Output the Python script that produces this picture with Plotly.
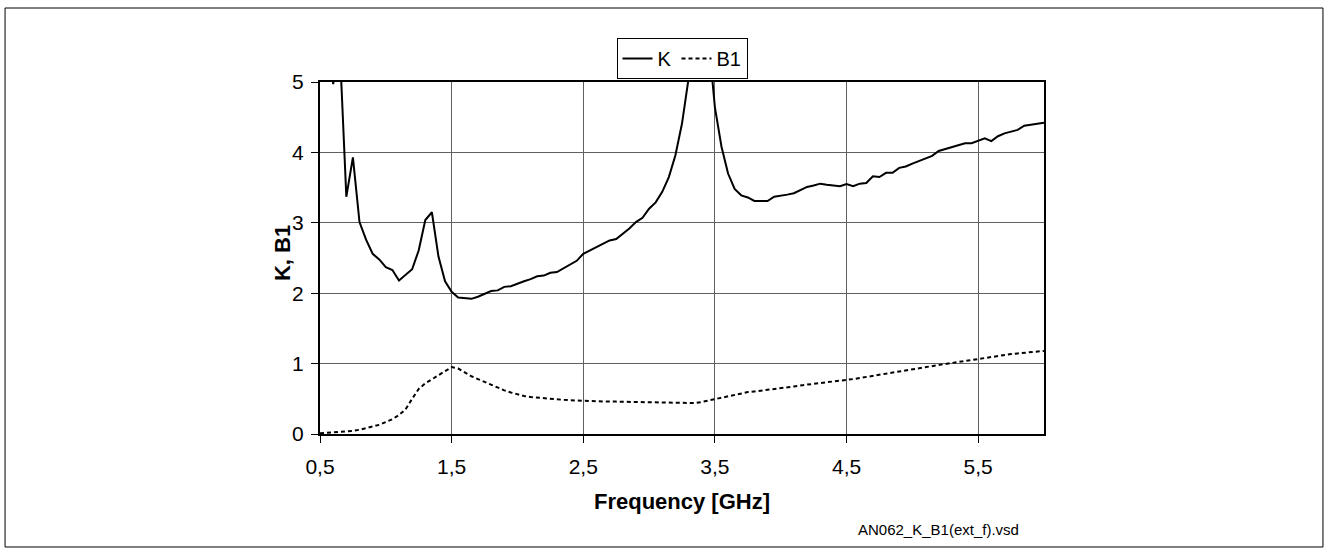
import plotly.graph_objects as go

# Frequency grid [GHz]
freq = [0.50, 0.55, 0.60, 0.65, 0.70, 0.75, 0.80, 0.85, 0.90, 0.95,
        1.00, 1.05, 1.10, 1.15, 1.20, 1.25, 1.30, 1.35, 1.40, 1.45,
        1.50, 1.55, 1.60, 1.65, 1.70, 1.75, 1.80, 1.85, 1.90, 1.95,
        2.00, 2.05, 2.10, 2.15, 2.20, 2.25, 2.30, 2.35, 2.40, 2.45,
        2.50, 2.55, 2.60, 2.65, 2.70, 2.75, 2.80, 2.85, 2.90, 2.95,
        3.00, 3.05, 3.10, 3.15, 3.20, 3.25, 3.30, 3.35, 3.40, 3.45,
        3.50, 3.55, 3.60, 3.65, 3.70, 3.75, 3.80, 3.85, 3.90, 3.95,
        4.00, 4.05, 4.10, 4.15, 4.20, 4.25, 4.30, 4.35, 4.40, 4.45,
        4.50, 4.55, 4.60, 4.65, 4.70, 4.75, 4.80, 4.85, 4.90, 4.95,
        5.00, 5.05, 5.10, 5.15, 5.20, 5.25, 5.30, 5.35, 5.40, 5.45,
        5.50, 5.55, 5.60, 5.65, 5.70, 5.75, 5.80, 5.85, 5.90, 5.95,
        6.00]

k_values = [5.8, 6.5, 4.97, 5.5, 3.37, 3.93, 3.01, 2.76, 2.56, 2.48,
            2.37, 2.33, 2.18, 2.26, 2.34, 2.61, 3.04, 3.15, 2.52, 2.17,
            2.02, 1.94, 1.93, 1.92, 1.95, 1.99, 2.03, 2.04, 2.09, 2.10,
            2.14, 2.17, 2.20, 2.24, 2.25, 2.29, 2.30, 2.35, 2.41, 2.46,
            2.56, 2.61, 2.65, 2.70, 2.75, 2.77, 2.84, 2.92, 3.01, 3.07,
            3.20, 3.29, 3.44, 3.65, 3.96, 4.41, 5.05, 8.0, 10.0, 5.64,
            4.64, 4.08, 3.70, 3.48, 3.39, 3.36, 3.31, 3.31, 3.31, 3.37,
            3.38, 3.40, 3.42, 3.46, 3.51, 3.53, 3.556, 3.54, 3.53, 3.52,
            3.55, 3.52, 3.556, 3.565, 3.66, 3.65, 3.71, 3.71, 3.78, 3.80,
            3.84, 3.88, 3.92, 3.95, 4.02, 4.05, 4.08, 4.10, 4.13, 4.13,
            4.17, 4.20, 4.16, 4.23, 4.27, 4.30, 4.32, 4.38, 4.39, 4.40,
            4.42]

b1_values = [0.01, 0.015, 0.02, 0.025, 0.03, 0.045, 0.06, 0.08, 0.10, 0.13,
             0.17, 0.21, 0.27, 0.35, 0.50, 0.64, 0.72, 0.78, 0.83, 0.89,
             0.95, 0.93, 0.87, 0.82, 0.78, 0.74, 0.69, 0.65, 0.62, 0.59,
             0.56, 0.54, 0.525, 0.515, 0.505, 0.50, 0.49, 0.485, 0.48, 0.475,
             0.47, 0.468, 0.465, 0.46, 0.46, 0.46, 0.46, 0.46, 0.458, 0.455,
             0.452, 0.45, 0.448, 0.446, 0.444, 0.442, 0.44, 0.44, 0.455, 0.475,
             0.50, 0.525, 0.545, 0.56, 0.58, 0.595, 0.605, 0.615, 0.625, 0.635,
             0.645, 0.66, 0.675, 0.69, 0.70, 0.715, 0.725, 0.735, 0.745, 0.755,
             0.77, 0.78, 0.795, 0.81, 0.82, 0.835, 0.85, 0.865, 0.88, 0.895,
             0.91, 0.93, 0.945, 0.96, 0.98, 0.995, 1.01, 1.025, 1.04, 1.055,
             1.07, 1.08, 1.095, 1.11, 1.12, 1.135, 1.145, 1.155, 1.165, 1.175,
             1.18]

x_ticks = [0.5, 1.5, 2.5, 3.5, 4.5, 5.5]
x_tick_labels = ["0,5", "1,5", "2,5", "3,5", "4,5", "5,5"]
y_ticks = [0, 1, 2, 3, 4, 5]

FONT = "Liberation Sans, Arial, sans-serif"

fig = go.Figure()
fig.add_trace(go.Scatter(x=freq, y=k_values, mode="lines", name="K",
                         line=dict(color="black", width=2)))
fig.add_trace(go.Scatter(x=freq, y=b1_values, mode="lines", name="B1",
                         line=dict(color="black", width=2, dash="4px,3px")))

fig.update_layout(
    width=1329, height=554,
    margin=dict(l=320, r=285, t=82, b=120),
    paper_bgcolor="white", plot_bgcolor="white",
    font=dict(family=FONT, size=21, color="black"),
    showlegend=True,
    legend=dict(orientation="h", x=0.5, xanchor="center", y=1.125, yanchor="top",
                bordercolor="black", borderwidth=1, bgcolor="white",
                font=dict(size=20), itemwidth=30, tracegroupgap=0),
    xaxis=dict(range=[0.5, 6.0], tickvals=x_ticks, ticktext=x_tick_labels,
               showgrid=True, gridcolor="#606060", gridwidth=1,
               showline=True, linecolor="black", linewidth=2, mirror=True,
               ticks="outside", ticklen=7, tickcolor="black", tickwidth=1,
               ticklabelstandoff=6, zeroline=False,
               title=dict(text="<b>Frequency [GHz]</b>", font=dict(size=22), standoff=16)),
    yaxis=dict(range=[0, 5], tickvals=y_ticks,
               showgrid=True, gridcolor="#606060", gridwidth=1,
               showline=True, linecolor="black", linewidth=2, mirror=True,
               ticks="outside", ticklen=7, tickcolor="black", tickwidth=1,
               ticklabelstandoff=3, zeroline=False),
    shapes=[dict(type="rect", xref="paper", yref="paper",
                 x0=-0.435, x1=1.3853, y0=-0.321, y1=1.2102,
                 line=dict(color="black", width=1), fillcolor="rgba(0,0,0,0)")],
    annotations=[
        dict(text="<b>K, B1</b>", xref="paper", yref="paper",
             x=-0.052, y=0.515, xanchor="center", yanchor="middle",
             textangle=-90, showarrow=False, font=dict(size=22)),
        dict(text="AN062_K_B1(ext_f).vsd", xref="paper", yref="paper",
             x=0.8536, y=-0.2727, xanchor="center", yanchor="middle",
             showarrow=False,
             font=dict(family="Liberation Sans Narrow, Liberation Sans, Arial", size=15)),
    ],
)

fig.write_html("out.html", config={"displayModeBar": False},
               post_script="document.body.style.margin='0';")
